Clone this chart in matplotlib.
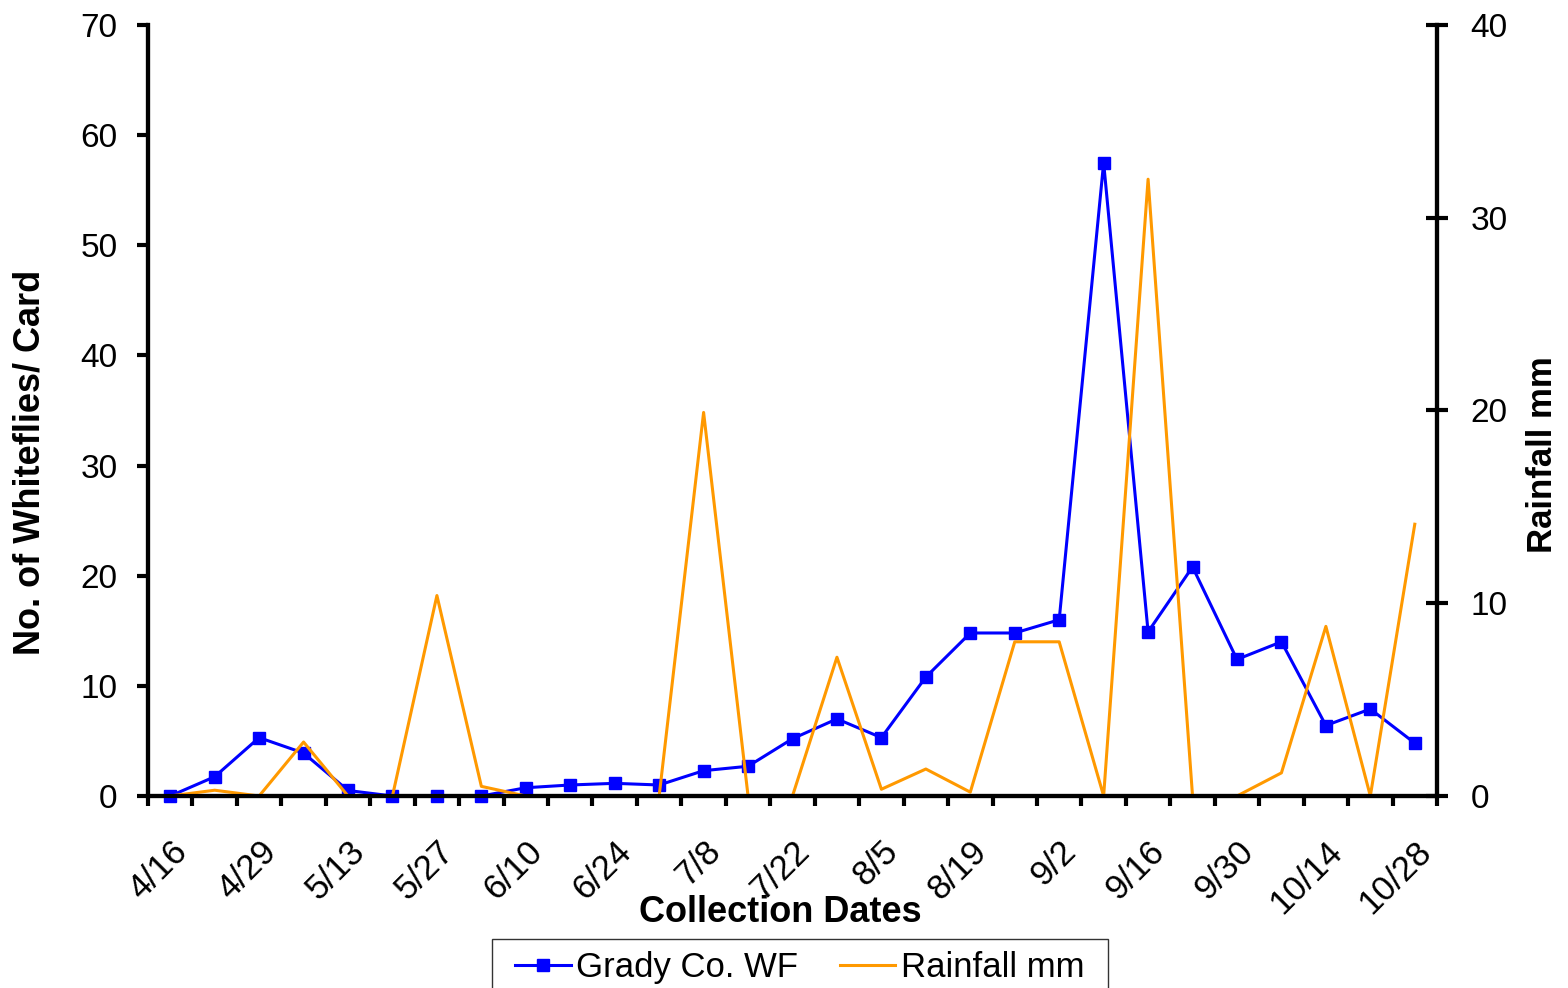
import matplotlib.pyplot as plt
import matplotlib.patches as mpatches
import numpy as np

plt.rcParams['font.family'] = ['Liberation Sans', 'DejaVu Sans']

# collection dates (only every other one is labelled on the axis)
dates = ['4/16', '4/22', '4/29', '5/6', '5/13', '5/20', '5/27', '6/3', '6/10', '6/17',
         '6/24', '7/1', '7/8', '7/15', '7/22', '7/29', '8/5', '8/12', '8/19', '8/26',
         '9/2', '9/9', '9/16', '9/23', '9/30', '10/7', '10/14', '10/21', '10/28']

# whiteflies per card, Grady Co.
whiteflies = [0, 1.75, 5.3, 3.9, 0.5, 0, 0, 0, 0.75, 1.0,
              1.15, 1.0, 2.3, 2.7, 5.2, 7.0, 5.3, 10.8, 14.8, 14.8,
              16.0, 57.5, 14.9, 20.8, 12.4, 14.0, 6.4, 7.9, 4.8]

# rainfall (mm), secondary axis
rainfall = [0, 0.3, 0, 2.8, 0, 0, 10.4, 0.5, 0, 0,
            0, 0, 19.9, 0, 0, 7.2, 0.35, 1.4, 0.2, 8.0,
            8.0, 0, 32.0, 0, 0, 1.2, 8.8, 0, 14.1]

x = np.arange(len(dates))

W, H = 1568, 988
fig = plt.figure(figsize=(W / 100, H / 100), dpi=100)
ax = fig.add_axes([148 / W, 1 - 796 / H, (1437 - 148) / W, (796 - 25) / H])
ax2 = ax.twinx()

l1, = ax.plot(x, whiteflies, color='#0000FF', lw=2.2, marker='s', markersize=8,
              clip_on=False, zorder=3, label='Grady Co. WF')
l2, = ax2.plot(x, rainfall, color='#FF9900', lw=2.2, clip_on=False, label='Rainfall mm')

ax.set_xlim(-0.5, len(dates) - 0.5)
ax.set_ylim(0, 70)
ax2.set_ylim(0, 40)
ax.set_yticks(range(0, 71, 10))
ax2.set_yticks(range(0, 41, 10))

# ticks between categories, labels on every other category
ax.set_xticks(np.arange(-0.5, len(dates), 1.0))
ax.set_xticklabels([])
ax.set_xticks(x[::2], minor=True)
ax.set_xticklabels(dates[::2], minor=True, rotation=45, ha='right',
                   rotation_mode='anchor', fontsize=25)
ax.tick_params(axis='x', which='minor', length=0, pad=28)
ax.tick_params(axis='x', which='major', length=7, width=3, direction='out')

ax.tick_params(axis='y', length=8, width=3, direction='out', labelsize=24, pad=14)
ax2.tick_params(axis='y', length=16, width=3, direction='inout', labelsize=24, pad=16)

for a in (ax, ax2):
    a.spines['top'].set_visible(False)
    for s in ('left', 'right', 'bottom'):
        a.spines[s].set_linewidth(3)

fig.text(30 / W, 1 - 462 / H, 'No. of Whiteflies/ Card', rotation=90,
         fontsize=26, fontweight='bold', ha='center', va='center')
fig.text(1543 / W, 1 - 455 / H, 'Rainfall mm', rotation=90,
         fontsize=25, fontweight='bold', ha='center', va='center')
fig.text(780 / W, 1 - 912 / H, 'Collection Dates',
         fontsize=26, fontweight='bold', ha='center', va='center')

# legend box runs off the bottom edge, as in the original
fig.patches.append(mpatches.Rectangle((492 / W, -0.02), (1108 - 492) / W, 0.02 + 1 - 939 / H,
                                      transform=fig.transFigure, fill=False,
                                      edgecolor='#333333', linewidth=1.0))
fig.legend(handles=[l1, l2], loc='upper center', bbox_to_anchor=(0.510, 1 - 941 / H),
           borderaxespad=0, ncol=2, fontsize=25, frameon=False,
           handlelength=1.6, handletextpad=0.15, columnspacing=1.2, borderpad=0.3)

fig.savefig('out.png', dpi=100)
